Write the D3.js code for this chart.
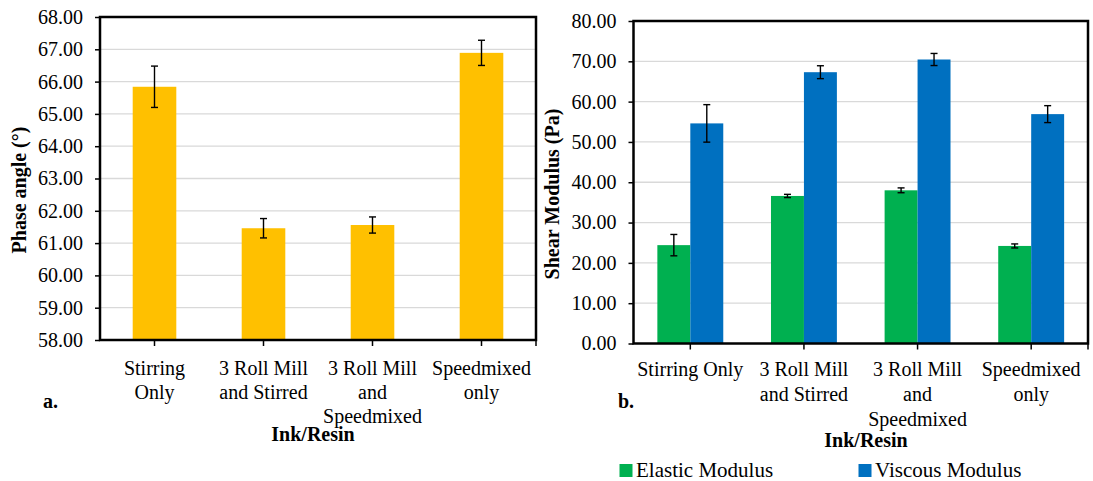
<!DOCTYPE html>
<html lang="en">
<head>
	<meta charset="utf-8">
	<title>Phase angle and shear modulus</title>
	<script src="https://d3js.org/d3.v7.min.js"></script>
	<style type="text/css">
		body { margin: 0; background: #fff; }
		text { font-family: "Liberation Serif", "Times New Roman", serif; fill: #000; }
		.axis path { display: none; }
		.axis line { stroke: #000; stroke-width: 1.5; }
		.axis text { font-size: 20px; }
		.grid line { stroke: #d9d9d9; stroke-width: 1.3; }
	</style>
</head>
<body>
<script type="text/javascript">

	// categories (wrapped lines as shown in each panel)
	var categories = ["Stirring Only", "3 Roll Mill and Stirred", "3 Roll Mill and Speedmixed", "Speedmixed only"];
	var linesA = [["Stirring", "Only"], ["3 Roll Mill", "and Stirred"], ["3 Roll Mill", "and", "Speedmixed"], ["Speedmixed", "only"]];
	var linesB = [["Stirring Only"], ["3 Roll Mill", "and Stirred"], ["3 Roll Mill", "and", "Speedmixed"], ["Speedmixed", "only"]];

	// panel a: phase angle
	var phase = [65.84, 61.46, 61.56, 66.89];
	var phaseErr = [0.64, 0.30, 0.25, 0.39];
	var phaseTicks = [58, 59, 60, 61, 62, 63, 64, 65, 66, 67, 68];

	// panel b: shear modulus
	var series = ["Elastic Modulus", "Viscous Modulus"];
	var elastic = [24.4, 36.6, 38.0, 24.2];
	var elasticErr = [2.65, 0.4, 0.6, 0.5];
	var viscous = [54.6, 67.3, 70.45, 56.9];
	var viscousErr = [4.65, 1.6, 1.5, 2.1];
	var modTicks = [0, 10, 20, 30, 40, 50, 60, 70, 80];

	var colors = { phase: "#FFC000", "Elastic Modulus": "#00B050", "Viscous Modulus": "#0070C0" };

	var w = 1093, h = 481;
	var svg = d3.select("body").append("svg").attr("width", w).attr("height", h);

	function drawPanel(opt) {
		var g = svg.append("g");
		var y = d3.scaleLinear().domain(opt.domain).range([opt.bottom, opt.top]);
		var x = d3.scaleBand().domain(categories).range([opt.left, opt.right])
			.paddingInner(opt.padIn).paddingOuter(opt.padIn / 2);

		//gridlines
		g.append("g").attr("class", "grid")
			.selectAll("line").data(opt.ticks.slice(1, -1)).enter().append("line")
			.attr("x1", opt.left).attr("x2", opt.right)
			.attr("y1", function (d) { return y(d); }).attr("y2", function (d) { return y(d); });

		//bars
		opt.bars(g, x, y);

		//frame
		g.append("rect")
			.attr("x", opt.left).attr("y", opt.top)
			.attr("width", opt.right - opt.left).attr("height", opt.bottom - opt.top)
			.attr("fill", "none").attr("stroke", "#000").attr("stroke-width", 2.5);

		//y axis
		g.append("g").attr("class", "axis")
			.attr("transform", "translate(" + opt.left + ",0)")
			.call(d3.axisLeft(y).tickValues(opt.ticks).tickFormat(d3.format(".2f")).tickSize(5).tickPadding(12));

		//x axis ticks at band centres and right edge
		var xt = categories.map(function (c) { return x(c) + x.bandwidth() / 2; }).concat([opt.right]);
		g.append("g").attr("class", "axis")
			.selectAll("line").data(xt).enter().append("line")
			.attr("x1", function (d) { return d; }).attr("x2", function (d) { return d; })
			.attr("y1", opt.bottom).attr("y2", opt.bottom + 6);

		//category labels
		var lab = g.append("g").selectAll("text").data(opt.lines).enter().append("text")
			.attr("text-anchor", "middle").attr("font-size", "20px")
			.attr("x", function (d, i) { return x(categories[i]) + x.bandwidth() / 2; })
			.attr("y", opt.labelY);
		lab.selectAll("tspan").data(function (d) { return d; }).enter().append("tspan")
			.attr("x", function () { return d3.select(this.parentNode).attr("x"); })
			.attr("dy", function (d, i) { return i === 0 ? 0 : opt.lineGap; })
			.text(function (d) { return d; });

		//axis titles
		g.append("text").attr("text-anchor", "middle").attr("font-weight", "bold").attr("font-size", "20px")
			.attr("x", opt.xTitle[0]).attr("y", opt.xTitle[1]).text("Ink/Resin");
		g.append("text").attr("text-anchor", "middle").attr("font-weight", "bold").attr("font-size", "20px")
			.attr("transform", "translate(" + opt.yTitle[0] + "," + opt.yTitle[1] + ") rotate(-90)")
			.text(opt.yLabel);
		g.append("text").attr("font-weight", "bold").attr("font-size", "20px")
			.attr("x", opt.tag[0]).attr("y", opt.tag[1]).text(opt.tagText);
	}

	function errorBars(g, xs, vals, errs, y) {
		var eg = g.append("g").attr("stroke", "#000").attr("stroke-width", 1.4);
		vals.forEach(function (v, i) {
			var cx = xs[i], hi = y(v + errs[i]), lo = y(v - errs[i]);
			eg.append("line").attr("x1", cx).attr("x2", cx).attr("y1", hi).attr("y2", lo);
			eg.append("line").attr("x1", cx - 3.5).attr("x2", cx + 3.5).attr("y1", hi).attr("y2", hi);
			eg.append("line").attr("x1", cx - 3.5).attr("x2", cx + 3.5).attr("y1", lo).attr("y2", lo);
		});
	}

	// panel a
	drawPanel({
		left: 100, right: 536, top: 17, bottom: 340,
		domain: [58, 68], ticks: phaseTicks, padIn: 0.6,
		lines: linesA, labelY: 375, lineGap: 24,
		xTitle: [313, 441], yTitle: [26, 190], yLabel: "Phase angle (°)",
		tag: [43, 408], tagText: "a.",
		bars: function (g, x, y) {
			g.selectAll("rect.bar").data(phase).enter().append("rect").attr("class", "bar")
				.attr("x", function (d, i) { return x(categories[i]); })
				.attr("width", x.bandwidth())
				.attr("y", function (d) { return y(d); })
				.attr("height", function (d) { return y(58) - y(d); })
				.attr("fill", colors.phase);
			errorBars(g, categories.map(function (c) { return x(c) + x.bandwidth() / 2; }), phase, phaseErr, y);
		}
	});

	// panel b
	drawPanel({
		left: 633.5, right: 1088, top: 21, bottom: 343.5,
		domain: [0, 80], ticks: modTicks, padIn: 0.42,
		lines: linesB, labelY: 376, lineGap: 25,
		xTitle: [866, 447], yTitle: [559, 194], yLabel: "Shear Modulus (Pa)",
		tag: [618, 408], tagText: "b.",
		bars: function (g, x, y) {
			var xs = d3.scaleBand().domain(series).range([0, x.bandwidth()]);
			var data = [elastic, viscous];
			var errs = [elasticErr, viscousErr];
			series.forEach(function (s, k) {
				g.selectAll("rect.s" + k).data(data[k]).enter().append("rect").attr("class", "s" + k)
					.attr("x", function (d, i) { return x(categories[i]) + xs(s); })
					.attr("width", xs.bandwidth())
					.attr("y", function (d) { return y(d); })
					.attr("height", function (d) { return y(0) - y(d); })
					.attr("fill", colors[s]);
			});
			series.forEach(function (s, k) {
				errorBars(g, categories.map(function (c) { return x(c) + xs(s) + xs.bandwidth() / 2; }), data[k], errs[k], y);
			});
		}
	});

	//legend
	var legX = [619.5, 858.5];
	var leg = svg.append("g").selectAll("g").data(series).enter().append("g")
		.attr("transform", function (d, i) { return "translate(" + legX[i] + ",464)"; });
	leg.append("rect").attr("width", 13).attr("height", 13).attr("fill", function (d) { return colors[d]; });
	leg.append("text").attr("x", 16.5).attr("y", 12.5).attr("font-size", "21px").text(function (d) { return d; });

</script>
</body>
</html>
